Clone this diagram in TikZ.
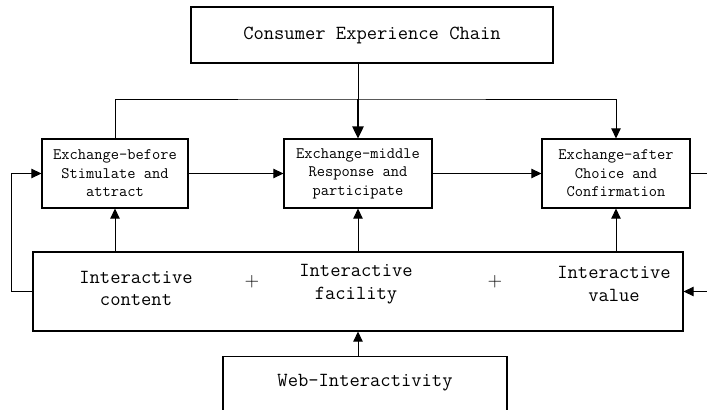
\documentclass[tikz,border=0pt]{standalone}
\usepackage{fontspec}
\usetikzlibrary{arrows.meta}

\newcommand\chainfont{\ttfamily\fontsize{15}{17}\selectfont}
\newcommand\stagefont{\ttfamily\fontsize{12}{13.9}\selectfont}

\begin{document}
\begin{tikzpicture}[x=0.75pt,y=-0.75pt,
  box/.style={draw, line width=0.8pt, inner sep=0pt},
  stage/.style={box, minimum width=111pt, minimum height=51.75pt, align=center, font=\stagefont},
  txt/.style={align=center, font=\chainfont, inner sep=0pt},
  line/.style={line width=0.7pt},
  arr/.style={line, -{Triangle[length=7.5pt,width=7pt]}}]
\useasboundingbox (0,0) rectangle (707,410);
\clip (0,0) rectangle (707,410);
% top of the chain
\node[box, minimum width=271.5pt, minimum height=42pt, font=\chainfont] (chain) at (372,35) {Consumer Experience Chain};
% the three exchange stages
\node[stage, minimum width=109.5pt] (before) at (115,173.5) {Exchange-before\\Stimulate and\\attract};
\node[stage] (middle) at (358,173.5) {Exchange-middle\\Response and\\participate};
\node[stage] (after) at (616,173.5) {Exchange-after\\Choice and\\Confirmation};
% interactivity block
\node[box, minimum width=487.5pt, minimum height=59.25pt] (inter) at (358,291.5) {};
\node[txt] (content) at (136,288.5) {Interactive\\content};
\node[txt] (facility) at (356,284) {Interactive\\facility};
\node[txt] (value) at (614,284) {Interactive\\value};
\node[txt] (plusa) at (252,282) {$+$};
\node[txt] (plusb) at (495,282) {$+$};
% web box runs off the bottom
\node[box, minimum width=213pt, minimum height=63pt, anchor=north] (web) at (365,356) {};
\node[txt] (webtext) at (365,383) {Web-Interactivity};

\coordinate (hub) at (middle.north |- 0,99);
\coordinate (lloop) at (11,0);
\coordinate (rloop) at (716,0);

\draw[line] (chain.south -| middle.north) -- (hub);
\draw[line, line width=1.1pt, -{Triangle[length=9pt,width=8.5pt]}] (hub) -- (middle.north);
\draw[arr] (before.north) |- (hub) -| (after.north);
\draw[arr] (before.east) -- (middle.west);
\draw[arr] (middle.east) -- (after.west);
\foreach \s in {before,middle,after}
  \draw[arr] (inter.north -| \s.south) -- (\s.south);
\draw[arr] (inter.west) -| (lloop |- before.west) -- (before.west);
\draw[arr] (after.east) -| (rloop |- inter.east) -- (inter.east);
\draw[arr] (web.north -| inter.south) -- (inter.south);
\end{tikzpicture}
\end{document}
